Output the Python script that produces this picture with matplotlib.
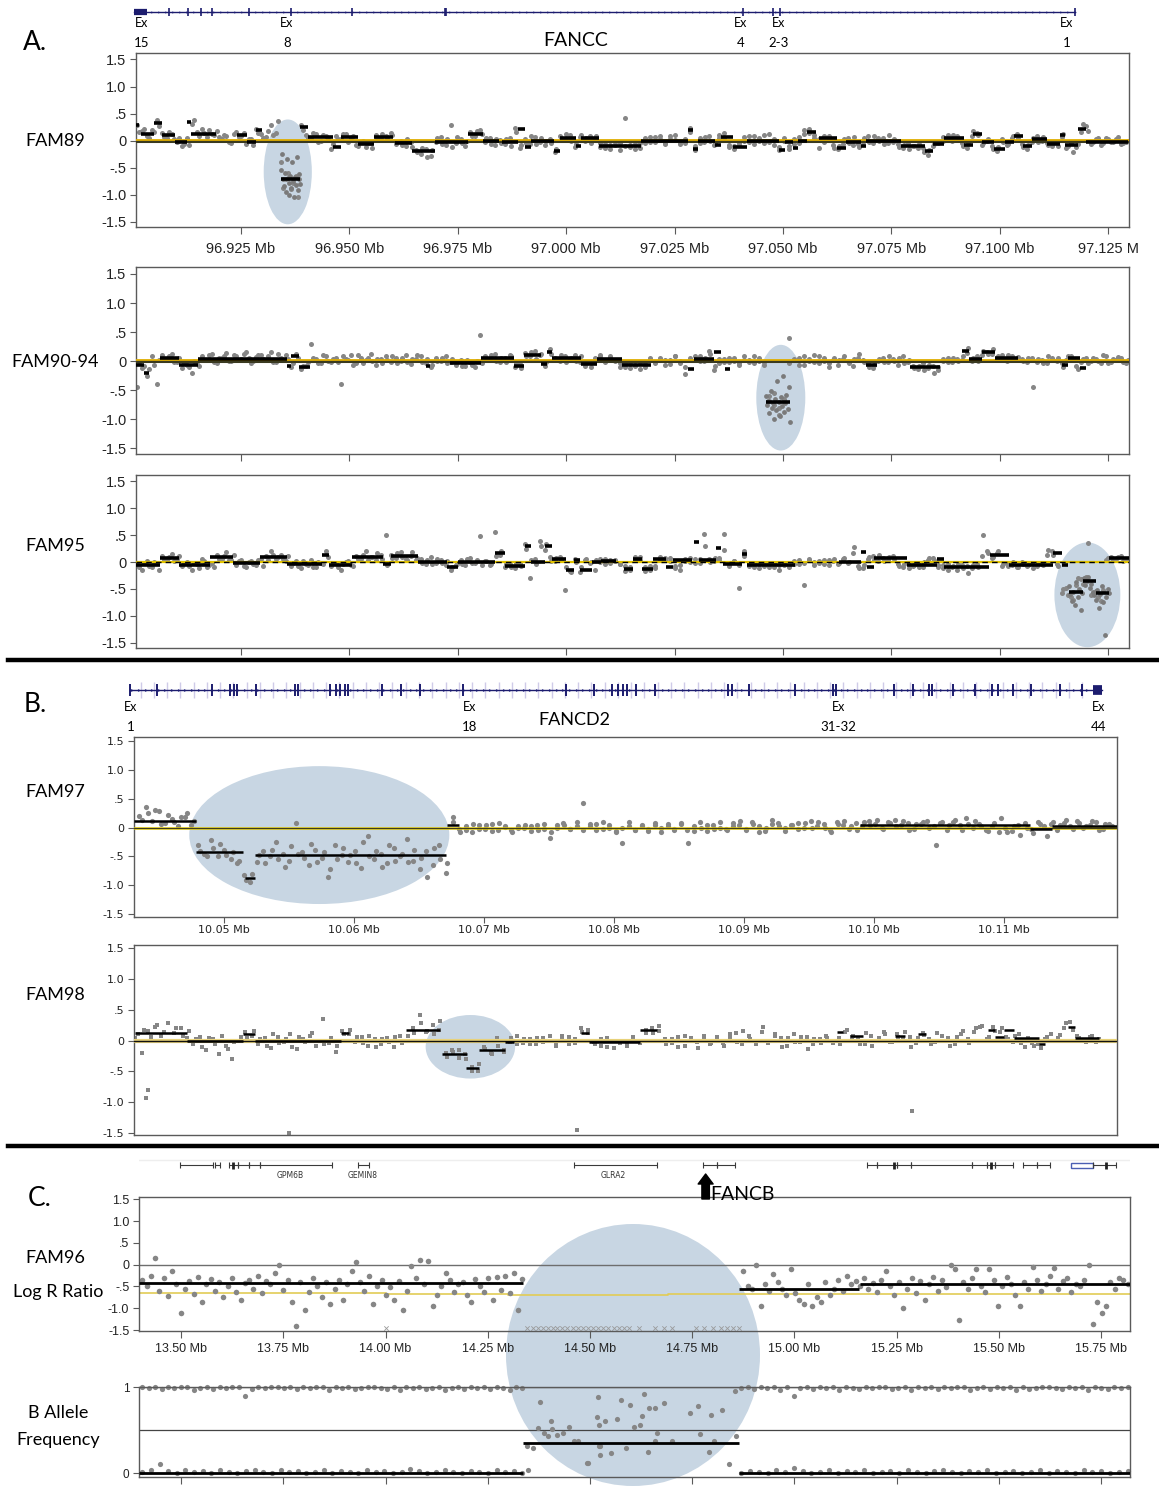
import numpy as np
import matplotlib
matplotlib.use("Agg")
import matplotlib.pyplot as plt
from matplotlib.patches import Ellipse, Rectangle
from matplotlib.lines import Line2D

W, H = 1159, 1487

# ---------------- data (log R ratio in hundredths) ----------------
A_X0, A_X1 = 96.9010, 97.1295

# two interleaved probe sets per sample
FAM89_LRR = [28, 18, 8, 20, 38, 14, 4, 12, -3, -10,
             5, 30, 16, 22, 6, 12, 18, 3, 8, -4,
             15, 8, -6, 2, 22, 12, 6, 28, 14, -40,
             -72, -90, -65, 28, 10, 2, 12, 0, 8, -15,
             9, 2, 12, 4, -8, -2, -12, -5, 10, 2,
             8, 14, -6, 0, -10, -3, -18, -25, -15, -28,
             -2, 6, -8, 28, -4, 2, -10, 16, 9, 20,
             -3, 4, -8, 1, -6, 5, 24, -14, 2, -6,
             6, -2, -9, 3, -22, 8, 2, 10, -12, 6,
             0, 9, 2, -12, -6, -15, -9, -4, 42, -8,
             -16, -5, 4, -3, 6, 2, -5, 8, 1, -6,
             3, 24, -18, 5, -2, 8, -9, 10, 4, -12,
             -16, -8, 6, -2, 9, 0, -5, 12, 3, -18,
             -1, -15, 2, -4, 20, 14, 5, -14, 8, 3,
             -14, -10, 2, -5, 6, -12, 4, -3, 8, 0,
             -6, 10, 2, -12, -8, -16, -10, -6, -22, -18,
             -7, -2, 6, 2, 10, 4, -10, -6, 18, 10,
             -4, 2, -16, -12, -2, -6, 9, 5, -12, -8,
             4, -2, 6, -8, -4, -10, 12, -10, -22, -6,
             30, 18, -2, 4, -5, 2, -3, 6, -4, 0]
FAM89_LRR_2 = [15, 22, 5, 16, 26, 6, 15, 2, 4, -6,
               -8, 38, 8, 14, 20, 10, 6, 10, -2, 12,
               6, 14, 2, -8, 14, 4, 18, 10, 36, -88,
               -60, -78, -105, 20, 4, 14, -2, 10, 2, -6,
               3, 12, -2, 8, -10, 0, -4, -14, 4, 12,
               2, 10, -2, -8, 2, -12, -22, -14, -30, -18,
               4, -6, 2, -12, 6, -4, 0, 8, 18, 12,
               5, -6, 2, -5, 3, -10, 16, -8, -4, 8,
               -6, 4, 0, -4, -16, 2, 12, 0, -6, 10,
               4, -4, 8, -4, -14, -8, -2, -18, -10, -12,
               -6, -14, -4, 6, -2, 8, -6, 2, 10, -3,
               -5, 16, -10, -4, 6, 0, -4, 4, 14, -8,
               -10, -4, 0, 8, -6, 4, 10, -3, -8, -12,
               4, -10, -6, 6, 12, 22, 10, 2, -2, 9,
               -8, -16, -6, 4, -8, -6, -2, 8, -4, 4,
               4, -4, -2, -6, -14, -4, -10, -14, -14, -26,
               -10, -4, 0, 10, -1, 8, -4, -14, 8, 14,
               -8, 0, -10, -20, 2, -8, 4, 12, -6, -16,
               -2, 8, 0, -4, -10, -2, 6, -14, -4, -12,
               16, 26, -6, 2, -8, 4, -2, 2, -6, -2]

FAM90_LRR = [-45, -12, -25, 8, -40, 10, 2, 12, -2, -12,
             -6, -20, -1, 8, 2, 12, -4, 6, 14, 0,
             9, 3, 16, -3, 7, 11, 2, 15, -2, 6,
             10, -10, 12, -14, -8, 30, 4, -3, 8, -2,
             6, -40, 3, 10, -4, 5, 1, 12, -6, 3,
             8, -2, 6, 0, 11, -5, 4, 9, -3, -10,
             5, 0, 8, -2, -6, 2, -8, -1, -10, 45,
             8, 2, 12, -1, 6, 10, -10, -5, 14, 8,
             18, 10, -8, 20, 6, 0, 9, 3, 11, -2,
             -8, -2, 6, 10, 0, 8, 2, -10, -4, -12,
             -6, -14, -2, 4, -3, 6, 1, -5, 8, 0,
             -22, 6, 2, 9, 0, 18, -16, 4, -2, 5,
             0, -6, 8, 2, -4, 6, -1, -68, -55, -80,
             -70, 40, 4, -6, 8, 0, 10, -3, 5, -10,
             6, 2, 9, -4, 3, 12, -2, -10, -6, 4,
             -2, 8, 0, 6, -4, 2, -12, -8, -16, -6,
             -20, -10, 4, -2, 6, 0, 8, 22, 6, 0,
             18, 12, 20, 8, 2, 10, 4, 7, 0, 5,
             -45, 3, -4, 8, 1, 5, -10, 8, 2, -14,
             4, -3, 6, 0, 10, -4, 3, 7, -2, 2]
FAM90_LRR_2 = [-2, -8, -14, -6, 2, 4, 8, -2, 6, -4,
               -10, 0, -8, 2, 10, -2, 6, 8, 0, 10,
               2, 12, 6, 0, 10, 4, 8, -2, 12, 2,
               4, -4, 6, -8, -2, 6, -4, 10, 0, 4,
               -2, 8, 2, -6, 10, -3, 6, 0, 4, -4,
               2, 8, -4, 6, -2, 3, 10, -2, 4, -6,
               0, 6, -4, 4, -2, -8, 2, -6, 0, -4,
               2, 10, 0, 6, -2, 8, -4, -12, 8, 16,
               4, 12, -2, 12, 2, 10, -2, 6, 0, 8,
               -4, -10, 2, 8, -2, 6, 0, -4, -10, -2,
               -8, -2, -10, 6, -2, 4, -6, 2, 8, -4,
               -10, 2, 8, 0, 6, 12, -8, -4, 4, -2,
               6, -4, 2, -2, 8, 0, -6, -60, -75, -92,
               -65, -4, 2, 6, -6, 4, -2, 8, 0, -4,
               2, -6, 4, 0, -8, 6, 2, -4, -12, 0,
               6, -2, 4, -6, 8, -2, -8, -14, -4, -12,
               -8, -16, 0, 6, -2, 4, 2, 14, 0, 8,
               10, 16, 12, 4, 10, 0, 8, 2, 4, -2,
               6, -2, 2, -4, 6, 0, -4, 2, 8, -8,
               -2, 6, 0, 4, -4, 8, -2, 2, 5, -3]

FAM95_LRR = [-4, -15, 2, -10, -2, 12, 3, 15, 5, -8,
             0, -14, -4, 6, -10, -2, 14, 6, 18, 4,
             -6, 3, -10, 2, -5, 5, 12, 20, 6, 14,
             2, -8, 2, -12, -3, 4, -9, -2, 20, -8,
             -2, -14, 0, -6, 12, 6, 20, 9, 3, 14,
             50, 14, 8, 18, 6, 12, 4, 6, -4, 10,
             -2, 4, -6, -14, -6, 4, -5, 8, -2, 48,
             2, -6, 56, 14, -10, -4, -12, -2, 34, -30,
             6, 40, 22, 9, 2, 10, -52, -16, 5, -18,
             4, -2, -14, 6, -3, 4, 2, -4, -16, -10,
             10, 3, -16, -8, -12, 10, 3, 8, -12, -6,
             6, 0, 5, -2, 52, 6, 2, 8, 52, -4,
             2, -48, 20, -8, -2, -12, -4, -9, -1, -14,
             -6, -8, 2, -3, -42, 4, 0, -2, 3, -5,
             6, -2, 8, 0, 28, -12, -6, 10, 4, 14,
             2, 9, 6, -8, -3, -12, -5, -10, 0, 8,
             3, -10, -6, -14, -8, -4, -12, -20, -6, -10,
             50, 16, 10, 20, -4, -8, 0, -10, -3, -6,
             -12, -2, -5, 22, 14, -8, -50, -62, -70, -30,
             -40, 36, -58, -66, -52, 8, 4, 10, 2, 6]
FAM95_LRR_2 = [-10, -2, -8, 0, -14, 4, 10, 2, 12, -2,
               -8, -2, -12, 2, -6, -10, 6, 12, 4, 14,
               2, -8, 0, -4, 4, -8, 4, 14, 10, 6,
               12, -2, -8, 2, -6, -10, 0, -4, 10, -2,
               -10, -4, 2, -8, 6, 14, 4, 10, 16, 6,
               -6, 8, 16, 10, 4, 18, 8, -2, 4, -4,
               6, -2, 2, -10, -4, -4, 6, -2, 4, -6,
               2, -4, 12, 20, -4, -10, -2, -8, 24, 4,
               -4, 30, 34, 2, 8, 4, -10, -18, 0, -10,
               6, 0, 4, 0, 6, -2, 4, -4, -8, -14,
               4, 10, -10, -14, -8, 4, 8, 2, -8, -14,
               2, 8, -2, 6, 30, 0, 8, 4, 22, -8,
               2, -6, 12, -2, -10, -4, -8, -2, -10, -6,
               -4, -10, -4, 4, -2, 6, -6, 2, -3, 4,
               2, -4, 6, -2, 16, -8, -12, 6, 12, 2,
               8, 4, 12, -4, -10, -2, -8, -4, -10, 4,
               8, -6, -12, -4, -10, -14, -6, -8, -12, -4,
               12, 20, 8, 16, -8, -2, -6, -10, 0, -8,
               -2, -8, -4, 14, 20, -4, -58, -48, -66, -42,
               -32, -28, -62, -54, -72, 4, 10, 6, 12, 4]

# probes inside the highlighted deletions: (start Mb, end Mb) and values
FAM89_DEL = (96.9343, 96.9387)
FAM89_DEL_LRR = [-55, -25, -72, -85, -60, -95, -35, -70, -78, -100, -65,
                 -88, -40, -75, -105, -68, -82, -30, -92, -72, -62, -80]
FAM90_DEL = (97.0461, 97.0516)
FAM90_DEL_LRR = [-60, -75, -68, -90, -52, -80, -72, -100, -65, -85, -35,
                 -70, -95, -62, -78, -25, -88, -72, -58, -82, -45, -105]
FAM95_DEL = (97.1159, 97.1252)
FAM95_DEL_LRR = [-45, -60, -72, -55, -80, -38, -65, -50, -90, -58, -30, -42,
                 -35, -28, -48, -40, -55, -62, -70, -52, -85, -60, -45, -75,
                 -135, -66, -50, -58]

# segment calls: (start Mb, end Mb, level)
FAM89_SEGS = [(96.9006, 96.9015, 0.28), (96.9019, 96.9050, 0.13), (96.9050, 96.9068, 0.32),
              (96.9068, 96.9099, 0.10), (96.9099, 96.9126, -0.02), (96.9126, 96.9135, 0.34),
              (96.9135, 96.9192, 0.13), (96.9241, 96.9263, 0.11), (96.9263, 96.9285, -0.03),
              (96.9285, 96.9299, 0.20), (96.9343, 96.9387, -0.72), (96.9387, 96.9405, 0.25),
              (96.9405, 96.9463, 0.06), (96.9463, 96.9481, -0.12), (96.9481, 96.9521, 0.06),
              (96.9521, 96.9556, -0.06), (96.9556, 96.9600, 0.06), (96.9605, 96.9645, -0.05),
              (96.9645, 96.9698, -0.20), (96.9698, 96.9773, -0.02), (96.9773, 96.9809, 0.13),
              (96.9809, 96.9844, -0.01), (96.9853, 96.9889, -0.02), (96.9889, 96.9906, 0.21),
              (96.9906, 96.9920, -0.12), (96.9920, 96.9973, -0.01), (96.9973, 96.9986, -0.19),
              (96.9986, 97.0022, 0.05), (97.0022, 97.0035, -0.10), (97.0035, 97.0076, 0.04),
              (97.0076, 97.0173, -0.10), (97.0173, 97.0280, 0.00), (97.0280, 97.0293, 0.20),
              (97.0293, 97.0305, -0.15), (97.0305, 97.0344, 0.00), (97.0344, 97.0356, -0.08),
              (97.0356, 97.0384, 0.07), (97.0384, 97.0416, -0.12), (97.0416, 97.0492, 0.00),
              (97.0492, 97.0505, -0.17), (97.0505, 97.0522, -0.02), (97.0522, 97.0535, -0.14),
              (97.0535, 97.0556, -0.01), (97.0556, 97.0577, 0.16), (97.0582, 97.0624, 0.05),
              (97.0624, 97.0645, -0.13), (97.0645, 97.0679, -0.02), (97.0679, 97.0692, -0.10),
              (97.0692, 97.0773, 0.00), (97.0773, 97.0828, -0.11), (97.0828, 97.0845, -0.20),
              (97.0845, 97.0871, -0.07), (97.0871, 97.0917, 0.05), (97.0917, 97.0939, -0.09),
              (97.0939, 97.0960, 0.12), (97.0960, 97.0986, -0.03), (97.0986, 97.1011, -0.15),
              (97.1011, 97.1032, -0.03), (97.1032, 97.1054, 0.08), (97.1054, 97.1075, -0.11),
              (97.1075, 97.1109, 0.02), (97.1109, 97.1139, -0.07), (97.1139, 97.1151, 0.11),
              (97.1151, 97.1181, -0.09), (97.1181, 97.1198, 0.22), (97.1198, 97.1296, -0.02)]

FAM90_SEGS = [(96.9006, 96.9027, -0.06), (96.9027, 96.9039, -0.20), (96.9064, 96.9108, 0.05),
              (96.9108, 96.9152, -0.06), (96.9152, 96.9356, 0.04), (96.9356, 96.9365, -0.08),
              (96.9365, 96.9383, 0.09), (96.9383, 96.9410, -0.10), (96.9676, 96.9685, -0.08),
              (96.9733, 96.9804, -0.03), (96.9804, 96.9880, 0.05), (96.9880, 96.9902, -0.08),
              (96.9902, 96.9942, 0.10), (96.9942, 96.9955, -0.05), (96.9955, 96.9968, 0.15),
              (96.9968, 97.0034, 0.05), (97.0034, 97.0072, -0.05), (97.0072, 97.0128, 0.04),
              (97.0128, 97.0196, -0.07), (97.0282, 97.0294, -0.14), (97.0294, 97.0341, 0.04),
              (97.0341, 97.0357, 0.15), (97.0367, 97.0377, -0.14), (97.0461, 97.0516, -0.71),
              (97.0691, 97.0717, -0.07), (97.0793, 97.0862, -0.10), (97.0913, 97.0930, 0.17),
              (97.0930, 97.0960, 0.04), (97.0960, 97.0990, 0.15), (97.0990, 97.1041, 0.06),
              (97.1143, 97.1158, -0.07), (97.1158, 97.1186, 0.05), (97.1186, 97.1199, -0.12)]

FAM95_SEGS = [(96.9006, 96.9064, -0.06), (96.9064, 96.9108, 0.07), (96.9108, 96.9179, -0.05),
              (96.9179, 96.9232, 0.09), (96.9232, 96.9294, -0.02), (96.9294, 96.9356, 0.09),
              (96.9356, 96.9436, -0.04), (96.9436, 96.9454, 0.14), (96.9454, 96.9507, -0.05),
              (96.9507, 96.9578, 0.09), (96.9578, 96.9596, -0.03), (96.9596, 96.9658, 0.11),
              (96.9658, 96.9725, 0.01), (96.9725, 96.9751, -0.09), (96.9751, 96.9835, 0.00),
              (96.9835, 96.9858, 0.16), (96.9858, 96.9906, -0.07), (96.9906, 96.9920, 0.29),
              (96.9920, 96.9951, 0.00), (96.9951, 96.9968, 0.29), (96.9968, 96.9999, 0.06),
              (96.9999, 97.0017, -0.14), (97.0017, 97.0031, 0.03), (97.0031, 97.0060, -0.15),
              (97.0060, 97.0081, 0.00), (97.0081, 97.0116, 0.02), (97.0133, 97.0154, -0.13),
              (97.0154, 97.0175, 0.06), (97.0175, 97.0201, -0.13), (97.0201, 97.0230, 0.06),
              (97.0230, 97.0247, -0.10), (97.0247, 97.0290, 0.03), (97.0294, 97.0307, 0.37),
              (97.0307, 97.0345, 0.04), (97.0345, 97.0358, 0.27), (97.0362, 97.0405, -0.03),
              (97.0405, 97.0417, 0.15), (97.0417, 97.0528, -0.06), (97.0630, 97.0681, 0.01),
              (97.0681, 97.0691, 0.19), (97.0694, 97.0711, -0.09), (97.0711, 97.0787, 0.07),
              (97.0787, 97.0855, -0.06), (97.0855, 97.0872, 0.05), (97.0872, 97.0974, -0.09),
              (97.0978, 97.1021, 0.14), (97.1021, 97.1123, -0.05), (97.1123, 97.1144, 0.17),
              (97.1144, 97.1157, -0.06), (97.1159, 97.1193, -0.56), (97.1193, 97.1223, -0.36),
              (97.1223, 97.1252, -0.58), (97.1252, 97.1297, 0.07)]

FAM97_LRR = [20, 35, 12, 28, 8, 15, 2, 18, 5, -30,
             -45, -22, -50, -38, -55, -62, -82, -95, -60, -40,
             -50, -25, -45, -58, 8, -42, -65, -38, -52, -85,
             -30, -48, -60, -40, -70, -15, -55, -45, -62, -35,
             -50, -20, -58, -72, -40, -65, -30, -78, 10, -3,
             2, -8, 4, -2, 6, -5, 1, -4, 3, 0,
             -6, 5, -2, -18, 4, 8, -3, 2, 42, 6,
             -4, 9, 0, -6, -26, 3, -5, 5, -2, 8,
             -8, 2, -4, 6, -27, -6, 0, 4, -3, 9,
             -5, 3, 12, -2, 6, -7, 0, 14, 2, -6,
             5, -3, 8, -1, 10, 0, -8, 6, 12, 3,
             -4, 10, 4, 14, -2, 8, 2, 12, -5, 6,
             10, 0, -30, 9, 4, 14, -4, 6, 12, 2,
             -6, 8, 16, -8, 3, -12, 0, -9, 6, -14,
             10, 4, 14, -2, 8, 3, 12, -4, 6, 2]
FAM97_LRR_2 = [14, 25, 30, 6, 22, 10, 18, 26, 12, -40,
               -50, -35, -28, -48, -42, -58, -90, -80, -48, -62,
               -38, -55, -68, -32, -45, -52, -28, -60, -42, -72,
               -55, -35, -48, -62, -25, -50, -40, -68, -30, -58,
               -45, -60, -38, -52, -85, -35, -55, -62, 18, -8,
               -4, 6, -2, 4, -6, 8, 2, -8, 0, 5,
               2, -4, 6, -8, 0, 4, -2, 10, -4, 2,
               6, -2, 4, -8, 0, 10, -4, 2, -6, 4,
               0, 6, -2, 8, -4, 2, 10, -6, 4, 0,
               -2, 8, 4, -4, 10, 2, -6, 6, 8, 0,
               4, 8, 0, 12, 2, 6, -4, 10, 4, -2,
               8, 2, 12, 6, 0, 10, 14, 4, 8, -2,
               6, 12, 2, 8, -4, 10, 4, 16, 0, 6,
               -4, 2, -8, 0, -6, 4, 8, -2, 10, 2,
               6, -4, 8, 2, 12, 0, 4, 10, -2, 6]
FAM97_SEGS = [(10.0431, 10.0479, 0.12), (10.0479, 10.0515, -0.43), (10.0516, 10.0524, -0.87),
              (10.0524, 10.0671, -0.47), (10.0672, 10.0681, 0.04), (10.0989, 10.1120, 0.04),
              (10.1120, 10.1137, -0.03), (10.1137, 10.1187, 0.03)]

FAM98_LRR = [5, -20, 15, 22, 8, 28, 12, 20, 4, -5,
             6, -15, 2, -22, -8, -30, 0, 14, 8, -6,
             4, -12, 6, -2, 10, -14, 2, 8, -8, 35,
             -4, -18, 16, 10, -3, 6, -8, 2, -5, 5,
             -10, 8, 0, 20, 42, 14, 25, 18, -20, -15,
             -28, -22, -42, -50, -10, -20, 4, -16, -3, 8,
             -4, 2, -6, 5, 0, -3, 8, -5, 2, 20,
             12, -2, -8, 5, -12, 0, -6, 4, -4, 18,
             12, 16, -6, 3, -10, 8, 0, -12, 4, -4,
             6, -8, 10, -3, 16, 2, -6, 22, 0, 7,
             -10, 4, -2, 6, -14, 2, -4, 5, 0, -6,
             18, 8, -5, 12, -8, 4, 10, -3, 6, 14,
             -10, 4, 9, -6, 12, 0, -8, 6, 15, -4,
             20, 24, 6, 16, 20, 2, 8, -4, 5, -8,
             -12, 6, 0, 9, 28, 18, 4, -3, 8, 2]
FAM98_LRR_2 = [10, 18, 6, 25, 14, 0, 20, 8, 16, 2,
               -10, 4, -6, 8, -14, -2, 6, 4, 16, 2,
               -8, 10, -4, 2, -10, 6, -2, 12, 0, -6,
               4, -8, 10, 18, 6, -4, 8, -10, 2, -2,
               6, -4, 8, 12, 28, 16, 10, 32, -26, -18,
               -16, -30, -50, -38, -14, -22, -8, -18, 4, -6,
               2, -6, 4, -2, 8, -8, 2, 6, -4, 14,
               18, -6, 2, -10, 0, -4, -8, 6, -2, 12,
               20, 24, 2, -4, 6, -8, 4, -2, 8, -6,
               2, -4, 6, 12, -6, 8, 0, 14, -4, 10,
               4, -8, 10, -2, 6, -6, 2, 8, -4, 4,
               14, 6, 2, -6, 8, 0, 14, -2, 10, 4,
               6, -4, 12, 2, -2, 8, 4, -6, 10, 2,
               14, 22, 2, 22, 14, 6, -2, 10, -10, -4,
               -6, 2, 10, 4, 20, 30, 8, 0, 6, -2]
FAM98_OUT_X = [10.0440, 10.0442, 10.0550, 10.0772, 10.1029]
FAM98_OUT_Y = [-0.93, -0.80, -1.49, -1.45, -1.14]
FAM98_SEGS = [(10.0432, 10.0472, 0.12), (10.0472, 10.0515, -0.01), (10.0515, 10.0524, 0.10),
              (10.0524, 10.0590, 0.00), (10.0590, 10.0596, 0.13), (10.0640, 10.0666, 0.17),
              (10.0668, 10.0687, -0.22), (10.0686, 10.0696, -0.45), (10.0696, 10.0716, -0.15),
              (10.0716, 10.0723, -0.02), (10.0775, 10.0781, 0.12), (10.0781, 10.0820, -0.03),
              (10.0820, 10.0833, 0.17), (10.0972, 10.0976, 0.14), (10.0982, 10.0992, 0.08),
              (10.1016, 10.1024, 0.08), (10.1034, 10.1040, 0.10), (10.1088, 10.1093, 0.18),
              (10.1093, 10.1100, 0.06), (10.1100, 10.1108, 0.18), (10.1108, 10.1127, 0.04),
              (10.1127, 10.1132, -0.06), (10.1149, 10.1155, 0.22), (10.1155, 10.1173, 0.04)]

FAM96_LRR_LEFT = [-35, -50, -25, 15, -60, -30, -72, -15, -45, -110,
                  -55, -38, -68, -28, -85, -45, -33, -60, -40, -75,
                  -50, -30, -62, -80, -42, -35, -55, -25, -65, -38,
                  -45, -20, 0, -58, -35, -85, -140, -40, -105, -62,
                  -30, -50, -75, -40, -90, -55, -35, -80, -45, -15,
                  5, -40, -60, -25, -90, -48, -35, -70, -52, -80,
                  -38, -105, -60, -2, -30, 10, -45, 8, -95, -70,
                  -48, -20, -35, -62, -45, -40, -70, -85, -32, -50,
                  -62, -30, -80, -28, -58, -25, -65, -20, -105, -33]
FAM96_LRR_RIGHT = [-15, -50, -55, 0, -95, -45, -60, -22, -40, -55,
                   -70, -10, -65, -80, -90, -45, -95, -75, -85, -40,
                   -70, -55, -35, -60, -25, -45, -38, -50, -30, -55,
                   -42, -62, -35, -15, -48, -70, -40, -100, -55, -30,
                   -65, -38, -80, -45, -28, -60, -35, -52, 0, -10,
                   -127, -40, -55, -30, -10, -48, -62, -10, -35, -95,
                   -50, -28, -45, -70, -95, -40, -55, -5, -35, -60,
                   -45, -25, -8, -55, -38, -30, -62, -45, -50, -35,
                   0, -135, -85, -110, -95, -40, -55, -30, -35, -45]
FAM96_NOCALL_X = [14.000, 14.345, 14.360, 14.372, 14.385, 14.397, 14.410, 14.420, 14.432,
                  14.445, 14.458, 14.470, 14.482, 14.495, 14.508, 14.520, 14.532, 14.545,
                  14.558, 14.570, 14.583, 14.596, 14.620, 14.660, 14.680, 14.700, 14.760,
                  14.780, 14.800, 14.820, 14.835, 14.850, 14.865]
FAM96_SEGS = [(13.397, 14.336, -0.42), (14.865, 15.158, -0.56), (15.161, 15.820, -0.45)]
FAM96_REF_X = [13.397, 14.000, 14.300, 14.690, 15.820]
FAM96_REF_Y = [-0.65, -0.68, -0.70, -0.67, -0.67]

BAF_TOP_LEFT = [100, 99, 100, 98, 100, 99, 100, 100, 97, 99, 100, 98, 100, 99, 100, 100,
                90, 98, 100, 99, 100, 100, 99, 100, 98, 100, 99, 100, 100, 97, 100, 99,
                100, 98, 99, 100, 100, 99, 98, 100, 97, 100, 99, 100, 98, 99, 100, 97,
                99, 100, 98, 100, 99, 100, 98, 100, 99, 97, 100, 99]
BAF_TOP_RIGHT = [99, 100, 98, 100, 99, 100, 97, 100, 90, 99, 100, 98, 100, 99, 100, 97,
                 100, 99, 98, 100, 99, 100, 100, 98, 99, 100, 97, 100, 99, 100, 98, 100,
                 99, 100, 100, 97, 99, 100, 98, 100, 99, 100, 97, 100, 98, 99, 100, 100,
                 99, 98, 100, 99, 100, 97, 100, 99, 98, 100, 99, 100]
BAF_LOW_LEFT = [1, 3, 10, 2, 0, 4, 1, 2, 0, 3, 1, 0, 2, 4, 1, 0, 3, 1, 2, 0, 1, 3, 0,
                2, 1, 0, 4, 1, 2, 0, 1, 5, 2, 0, 1, 3, 1, 0, 2, 1, 0, 3, 1, 2, 0]
BAF_LOW_RIGHT = [0, 2, 1, 0, 3, 1, 6, 2, 0, 1, 3, 0, 2, 1, 4, 0, 1, 2, 0, 3, 1, 0, 2,
                 4, 1, 0, 2, 1, 3, 0, 1, 2, 0, 1, 3, 0, 2, 1, 0, 4, 1, 2, 0, 1, 2]
BAF_MID_X = [14.345, 14.348, 14.361, 14.373, 14.378, 14.387, 14.397, 14.404, 14.406, 14.420,
             14.434, 14.448, 14.462, 14.472, 14.493, 14.495, 14.518, 14.520, 14.521, 14.523,
             14.524, 14.524, 14.538, 14.552, 14.565, 14.576, 14.587, 14.597, 14.608, 14.623,
             14.627, 14.632, 14.641, 14.645, 14.659, 14.660, 14.664, 14.682, 14.700, 14.745,
             14.765, 14.768, 14.791, 14.795, 14.804, 14.822, 14.840, 14.854, 14.858]
BAF_MID_Y = [0.31, 0.04, 0.29, 0.52, 0.83, 0.46, 0.43, 0.60, 0.51, 0.44,
             0.47, 0.54, 0.37, 0.37, 0.12, 0.12, 0.65, 0.88, 0.56, 0.31,
             0.31, 0.21, 0.60, 0.23, 0.63, 0.85, 0.29, 0.79, 0.54, 0.56,
             0.66, 0.92, 0.25, 0.76, 0.76, 0.37, 0.47, 0.81, 0.37, 0.70,
             0.78, 0.45, 0.25, 0.68, 0.37, 0.73, 0.10, 0.95, 0.43]
BAF_SEGS = [(13.397, 14.336, 0.0), (14.336, 14.865, 0.35), (14.865, 15.820, 0.0)]

# gene annotation tracks
FANCC_SPAN = (96.9003, 97.1174)
FANCC_UTR = (96.9003, 96.9034)
FANCC_EXONS = [96.9083, 96.9127, 96.9158, 96.9184, 96.9268, 96.9365, 96.9507, 96.9720,
               96.9724, 97.0408, 97.0476, 97.0493, 97.1174]
FANCC_EX_LABELS = ["15", "8", "4", "2-3", "1"]
FANCC_EX_POS = [96.9021, 96.9356, 97.0402, 97.0490, 97.1155]

FANCD2_SPAN = (10.04277, 10.11757)
FANCD2_UTR = (10.11687, 10.11757)
FANCD2_EXONS = [10.04277, 10.04485, 10.04912, 10.05045, 10.05076, 10.05103, 10.05250,
                10.05545, 10.05575, 10.05821, 10.05867, 10.05898, 10.05929, 10.05959,
                10.06220, 10.06366, 10.06512, 10.06839, 10.07633, 10.07847, 10.07987,
                10.08033, 10.08071, 10.08102, 10.08171, 10.08314, 10.08878, 10.08909,
                10.09037, 10.09392, 10.09689, 10.09708, 10.10156, 10.10298, 10.10425,
                10.10448, 10.10609, 10.10780, 10.10905, 10.10951, 10.11074, 10.11205,
                10.11431, 10.11602]
FANCD2_EX_LABELS = ["1", "18", "31-32", "44"]
FANCD2_EX_POS = [10.04285, 10.06888, 10.09730, 10.11727]

CHRX_GENES = [(13.498, 13.579), (13.582, 13.594), (13.616, 13.640), (13.640, 13.667),
              (13.667, 13.694), (13.694, 13.868), (13.932, 13.959), (14.462, 14.663),
              (14.776, 14.812), (14.812, 14.856), (15.177, 15.201), (15.201, 15.250),
              (15.250, 15.285), (15.285, 15.435), (15.435, 15.471), (15.471, 15.491),
              (15.491, 15.535), (15.560, 15.594), (15.594, 15.626), (15.731, 15.787)]
CHRX_EXON_TICKS = [13.628, 15.243, 15.480, 15.763]
CHRX_GENE_NAMES = ["GPM6B", "GEMIN8", "GLRA2"]
CHRX_GENE_POS = [13.766, 13.944, 14.557]
FANCB_POS = 14.783

A_XTICKS = [96.925, 96.950, 96.975, 97.000, 97.025, 97.050, 97.075, 97.100, 97.125]
B_XTICKS = [10.05, 10.06, 10.07, 10.08, 10.09, 10.10, 10.11]
C_XTICKS = [13.50, 13.75, 14.00, 14.25, 14.50, 14.75, 15.00, 15.25, 15.50, 15.75]
LRR_TICKS = [1.5, 1.0, 0.5, 0, -0.5, -1.0, -1.5]
LRR_TICK_LABELS = ["1.5", "1.0", ".5", "0", "-.5", "-1.0", "-1.5"]

# ---------------- styling ----------------
plt.rcParams['font.family'] = ['Liberation Sans', 'DejaVu Sans']
LABEL_FONT = ['Lato', 'Liberation Sans', 'DejaVu Sans']
PT_COLOR = '#868686'
ELL_COLOR = '#c8d6e3'
NAVY = '#1c1c6e'

fig = plt.figure(figsize=(W / 100, H / 100), dpi=100)


def px_axes(l, t, r, b):
    return fig.add_axes([l / W, 1 - b / H, (r - l) / W, (b - t) / H])


def fy(py):
    return 1 - py / H


def lrr_axes(rect, xlim, ylim, tick_font, tick_size):
    ax = px_axes(*rect)
    ax.set_facecolor('none')
    ax.set_xlim(*xlim)
    ax.set_ylim(*ylim)
    for s in ax.spines.values():
        s.set_color('#5a5a5a')
        s.set_linewidth(1.0)
    ax.set_yticks(LRR_TICKS)
    ax.set_yticklabels(LRR_TICK_LABELS, family=tick_font, fontsize=tick_size, color='#222222')
    ax.tick_params(axis='y', length=4, width=0.8, color='#5a5a5a', pad=3)
    ax.tick_params(axis='x', length=5, width=0.8, color='#5a5a5a')
    return ax


def draw_segs(ax, segs, lw):
    ax.hlines([s[2] for s in segs], [s[0] for s in segs], [s[1] for s in segs],
              colors='black', lw=lw, zorder=4)


# ---------------- A. FANCC ----------------
a_rects = [(136, 53, 1129, 227), (136, 267, 1129, 454), (136, 475, 1129, 648)]
a_data = [(FAM89_LRR, FAM89_LRR_2, FAM89_SEGS, FAM89_DEL, FAM89_DEL_LRR, (96.9358, -0.58), 0.0111, 1.94),
          (FAM90_LRR, FAM90_LRR_2, FAM90_SEGS, FAM90_DEL, FAM90_DEL_LRR, (97.0495, -0.63), 0.0113, 1.82),
          (FAM95_LRR, FAM95_LRR_2, FAM95_SEGS, FAM95_DEL, FAM95_DEL_LRR, (97.1202, -0.61), 0.0152, 1.95)]
for k, (rect, (vals, vals2, segs, drange, dvals, ecen, ew, eh)) in enumerate(zip(a_rects, a_data)):
    ax = lrr_axes(rect, (96.9008, 97.1298), (-1.6, 1.62), 'Liberation Sans', 10.5)
    ax.add_patch(Ellipse(ecen, ew, eh, facecolor=ELL_COLOR, edgecolor='none', zorder=1))
    ax.scatter(np.linspace(A_X0, A_X1, len(vals)), np.array(vals) / 100, s=13,
               color=PT_COLOR, lw=0, zorder=2)
    ax.scatter(np.linspace(A_X0 + 0.0006, A_X1 - 0.0004, len(vals2)), np.array(vals2) / 100, s=13,
               color=PT_COLOR, lw=0, zorder=2)
    ax.scatter(np.linspace(drange[0], drange[1], len(dvals)), np.array(dvals) / 100, s=12,
               color='#7a7a7a', lw=0, zorder=2)
    draw_segs(ax, segs, 2.6)
    if k == 2:
        ax.axhline(0, color='#e3c400', lw=1.6, zorder=3)
        ax.axhline(0, color='black', lw=1.0, dashes=(4, 3), zorder=3.2)
    else:
        ax.axhline(0, color='#3a3a20', lw=2.2, zorder=3)
        ax.axhline(0.01, color='#e0ae00', lw=1.3, zorder=3.1)
    ax.set_xticks(A_XTICKS)
    if k == 0:
        labels = [f"{t:.3f} Mb" for t in A_XTICKS]
        labels[-1] = "97.125 M"
        ax.set_xticklabels(labels, fontsize=10.5, color='#222222')
        ax.tick_params(axis='x', pad=6)
    else:
        ax.set_xticklabels([])

# FANCC gene track
gA = px_axes(136, 0, 1129, 52)
gA.set_xlim(96.9008, 97.1298)
gA.set_ylim(52, 0)
gA.axis('off')
gA.plot(FANCC_SPAN, [12, 12], color=NAVY, lw=1.0, clip_on=False)
chevA = np.arange(FANCC_SPAN[0] + 0.001, FANCC_SPAN[1], 0.0016)
gA.scatter(chevA, np.full(len(chevA), 12), marker='>', s=4, color='#8a8ac4', lw=0, clip_on=False)
gA.plot(FANCC_UTR, [12, 12], color=NAVY, lw=4.5, solid_capstyle='butt', clip_on=False)
gA.vlines(FANCC_EXONS, 8, 16, color=NAVY, lw=1.2, clip_on=False)
for lab, pos in zip(FANCC_EX_LABELS, FANCC_EX_POS):
    gA.text(pos, 23, "Ex", ha='center', va='center', fontsize=9, family=LABEL_FONT)
    gA.text(pos, 43, lab, ha='center', va='center', fontsize=9.5, family=LABEL_FONT)
gA.text(97.0021, 41, "FANCC", ha='center', va='center', fontsize=14, family=LABEL_FONT)

# ---------------- B. FANCD2 ----------------
b_xlim = (10.0431, 10.1187)
ax = lrr_axes((134, 737, 1117, 917), b_xlim, (-1.55, 1.57), 'DejaVu Sans', 8)
ax.add_patch(Ellipse((10.05735, -0.13), 0.0200, 2.39, facecolor=ELL_COLOR, edgecolor='none', zorder=1))
ax.scatter(np.linspace(10.0435, 10.1183, len(FAM97_LRR)), np.array(FAM97_LRR) / 100, s=14,
           color=PT_COLOR, lw=0, zorder=2)
ax.scatter(np.linspace(10.0437, 10.1181, len(FAM97_LRR_2)), np.array(FAM97_LRR_2) / 100, s=14,
           color=PT_COLOR, lw=0, zorder=2)
draw_segs(ax, FAM97_SEGS, 1.8)
ax.axhline(0, color='#d2bb00', lw=1.8, zorder=3)
ax.axhline(0, color='#222222', lw=0.6, zorder=3.1)
ax.set_xticks(B_XTICKS)
ax.set_xticklabels([f"{t:.2f} Mb" for t in B_XTICKS], family='DejaVu Sans', fontsize=8,
                   color='#222222')
ax.tick_params(axis='x', length=4, pad=2)

ax = lrr_axes((134, 945, 1117, 1135), b_xlim, (-1.53, 1.55), 'DejaVu Sans', 8)
ax.add_patch(Ellipse((10.06897, -0.10), 0.00688, 1.03, facecolor=ELL_COLOR, edgecolor='none', zorder=1))
ax.scatter(np.linspace(10.0432, 10.1173, len(FAM98_LRR)), np.array(FAM98_LRR) / 100, s=10,
           marker='s', color=PT_COLOR, lw=0, zorder=2)
ax.scatter(np.linspace(10.0434, 10.1171, len(FAM98_LRR_2)), np.array(FAM98_LRR_2) / 100, s=10,
           marker='s', color=PT_COLOR, lw=0, zorder=2)
ax.scatter(FAM98_OUT_X, FAM98_OUT_Y, s=6, marker='s', color=PT_COLOR, lw=0, zorder=2)
draw_segs(ax, FAM98_SEGS, 1.8)
ax.axhline(0, color='#e8d27a', lw=3.0, zorder=3)
ax.axhline(0, color='#111111', lw=1.0, zorder=3.1)
ax.set_xticks([])

# FANCD2 gene track
gB = px_axes(134, 672, 1117, 735)
gB.set_xlim(*b_xlim)
gB.set_ylim(735, 672)
gB.axis('off')
gB.vlines(np.arange(10.0436, 10.1168, 0.00102), 682, 698, color='#cfcbe8', lw=1.0, clip_on=False)
gB.plot(FANCD2_SPAN, [690, 690], color=NAVY, lw=1.0, clip_on=False)
chev = np.arange(FANCD2_SPAN[0] + 0.0002, FANCD2_UTR[0], 0.00051)
gB.scatter(chev, np.full(len(chev), 690), marker='>', s=5, color='#4a4a9a', lw=0, clip_on=False)
gB.vlines(FANCD2_EXONS, 684, 696, color=NAVY, lw=1.4, clip_on=False)
gB.plot(FANCD2_UTR, [690, 690], color=NAVY, lw=7, solid_capstyle='butt', clip_on=False)
for lab, pos in zip(FANCD2_EX_LABELS, FANCD2_EX_POS):
    gB.text(pos, 707, "Ex", ha='center', va='center', fontsize=9, family=LABEL_FONT)
    gB.text(pos, 727, lab, ha='center', va='center', fontsize=9.5, family=LABEL_FONT)
gB.text(10.07695, 720, "FANCD2", ha='center', va='center', fontsize=13, family=LABEL_FONT)

# ---------------- C. FANCB ----------------
c_xlim = (13.397, 15.821)
fig.add_artist(Ellipse((633 / W, fy(1355)), 254 / W, 262 / H, transform=fig.transFigure,
                       facecolor=ELL_COLOR, edgecolor='none', zorder=-1))

ax = lrr_axes((139, 1197, 1130, 1331), c_xlim, (-1.52, 1.55), 'Liberation Sans', 9)
ax.axhline(0, color='#6e6e6e', lw=1.0, zorder=1.5)
ax.step(FAM96_REF_X, FAM96_REF_Y, where='post', color='#e2cc55', lw=1.2, zorder=1.6)
ax.scatter(np.linspace(13.405, 14.335, len(FAM96_LRR_LEFT)), np.array(FAM96_LRR_LEFT) / 100,
           s=16, color=PT_COLOR, lw=0, zorder=2)
ax.scatter(np.linspace(14.875, 15.815, len(FAM96_LRR_RIGHT)), np.array(FAM96_LRR_RIGHT) / 100,
           s=16, color=PT_COLOR, lw=0, zorder=2)
ax.scatter(FAM96_NOCALL_X, np.full(len(FAM96_NOCALL_X), -1.46), marker='x', s=10,
           color='#9a9a9a', lw=0.6, zorder=2)
draw_segs(ax, FAM96_SEGS, 2.0)
ax.set_xticks(C_XTICKS)
ax.set_xticklabels([f"{t:.2f} Mb" for t in C_XTICKS], fontsize=9, color='#222222')
ax.tick_params(axis='x', pad=4)

ax = px_axes(139, 1387, 1130, 1477)
ax.set_facecolor('none')
ax.set_xlim(*c_xlim)
ax.set_ylim(-0.046, 1.0)
for s in ax.spines.values():
    s.set_color('#5a5a5a')
    s.set_linewidth(1.0)
ax.axhline(0.5, color='#444444', lw=0.9, zorder=1.5)
ax.axhline(1.0, color='#6e6e6e', lw=1.0, zorder=1.5)
for vals, x0, x1 in [(BAF_TOP_LEFT, 13.405, 14.335), (BAF_TOP_RIGHT, 14.870, 15.815),
                     (BAF_LOW_LEFT, 13.405, 14.335), (BAF_LOW_RIGHT, 14.870, 15.815)]:
    ax.scatter(np.linspace(x0, x1, len(vals)), np.array(vals) / 100, s=14,
               color=PT_COLOR, lw=0, zorder=2, clip_on=False)
ax.scatter(BAF_MID_X, BAF_MID_Y, s=14, color=PT_COLOR, lw=0, zorder=2)
draw_segs(ax, BAF_SEGS, 2.0)
ax.set_yticks([1, 0])
ax.set_yticklabels(["1", "0"], fontsize=8.5, color='#222222')
ax.tick_params(axis='y', length=4, width=0.8, color='#5a5a5a', pad=3)
ax.set_xticks(C_XTICKS)
ax.set_xticklabels([])
ax.tick_params(axis='x', length=5, width=0.8, color='#5a5a5a')

# chrX gene track
gC = px_axes(139, 1150, 1130, 1200)
gC.set_xlim(*c_xlim)
gC.set_ylim(1200, 1150)
gC.axis('off')
gC.plot(c_xlim, [1160, 1160], color='#eeeeee', lw=1.0)
gC.hlines([1165] * len(CHRX_GENES), [g[0] for g in CHRX_GENES], [g[1] for g in CHRX_GENES],
          color='#3a3a3a', lw=0.8)
ends = [g[0] for g in CHRX_GENES] + [g[1] for g in CHRX_GENES]
gC.vlines(ends, 1162, 1168, color='#3a3a3a', lw=0.8)
gC.vlines(CHRX_EXON_TICKS, 1161.5, 1168.5, color='#222222', lw=2.0)
gC.add_patch(Rectangle((15.677, 1162.5), 0.054, 5, facecolor='white', edgecolor='#4b5fb3', lw=1.0))
for name, pos in zip(CHRX_GENE_NAMES, CHRX_GENE_POS):
    gC.text(pos, 1176, name, ha='center', va='center', fontsize=5.5, family='DejaVu Sans',
            color='#333333')
gC.annotate('', xy=(FANCB_POS, 1174), xytext=(FANCB_POS, 1199),
            arrowprops=dict(arrowstyle='simple,head_width=0.9,tail_width=0.45,head_length=0.6',
                            color='black', mutation_scale=12, shrinkA=0, shrinkB=0),
            annotation_clip=False)
gC.text(14.795, 1200, "FANCB", ha='left', va='baseline', fontsize=14, family=LABEL_FONT)

# ---------------- labels and dividers ----------------
for txt, x, y in [("A.", 35, 42), ("B.", 35, 705), ("C.", 40, 1198)]:
    fig.text(x / W, fy(y), txt, ha='center', va='center', fontsize=19, family=LABEL_FONT)
for txt, x, y in [("FAM89", 55, 141), ("FAM90-94", 55, 362), ("FAM95", 55, 546),
                  ("FAM97", 55, 792), ("FAM98", 55, 995), ("FAM96", 55, 1258),
                  ("Log R Ratio", 58, 1292), ("B Allele", 58, 1413), ("Frequency", 58, 1440)]:
    fig.text(x / W, fy(y), txt, ha='center', va='center', fontsize=13, family=LABEL_FONT)

for y in (660, 1146):
    fig.add_artist(Line2D([8 / W, 1.0], [fy(y), fy(y)], color='black', lw=3.2,
                          transform=fig.transFigure))

fig.savefig("out.png", dpi=100)
